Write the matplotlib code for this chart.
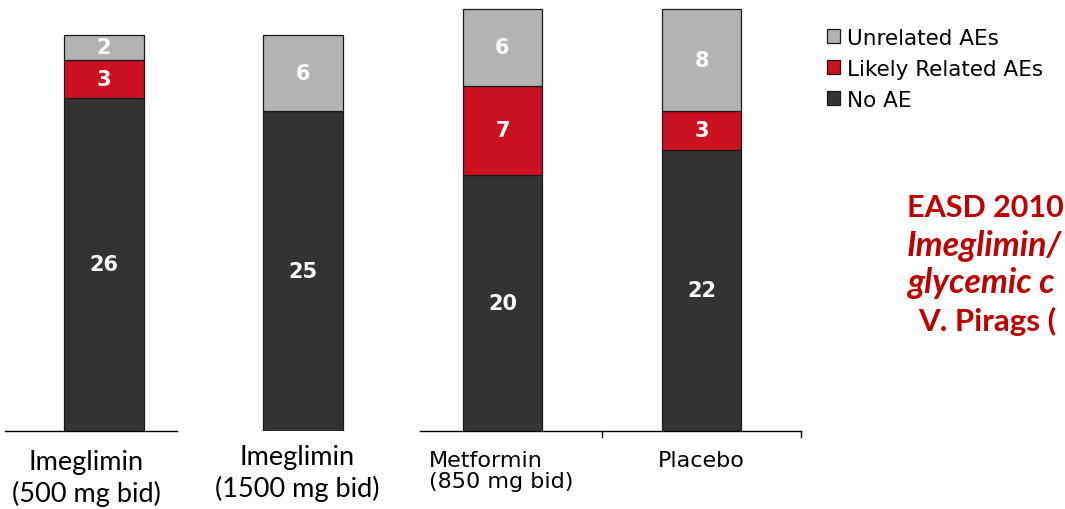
import matplotlib
matplotlib.use("Agg")
import matplotlib.pyplot as plt
from matplotlib.patches import Patch
import numpy as np

# ---- data ----
categories = ["Imeglimin\n(500 mg bid)", "Imeglimin\n(1500 mg bid)",
              "Metformin\n(850 mg bid)", "Placebo"]
no_ae = [26, 25, 20, 22]
likely_related = [3, 0, 7, 3]
unrelated = [2, 6, 6, 8]
series_names = ["No AE", "Likely Related AEs", "Unrelated AEs"]
note_lines = ["EASD 2010", "Imeglimin/", "glycemic c", "V. Pirags ("]

# ---- style ----
C_DARK = "#333333"
C_RED = "#CC1221"
C_GRAY = "#B3B3B3"
C_NOTE = "#C00000"

W, H = 1065, 510
fig = plt.figure(figsize=(W / 100, H / 100), dpi=100)
ax = fig.add_axes([0, 78.5 / H, 1, 431.5 / H])
ax.set_xlim(-104 / 199.2, (W - 104) / 199.2)
ax.set_ylim(0, 431.5 / 12.77)
ax.axis("off")

x = np.arange(len(categories))
bw = 0.40
series = [no_ae, likely_related, unrelated]
colors = [C_DARK, C_RED, C_GRAY]
bottom = np.zeros(len(categories))
for vals, col in zip(series, colors):
    v = np.array(vals, dtype=float)
    ax.bar(x, v, bw, bottom=bottom, color=col, edgecolor="#1a1a1a",
           linewidth=0.9, zorder=2)
    for xi, b, val in zip(x, bottom, v):
        if val > 0:
            ax.text(xi, b + val / 2, f"{int(val)}", ha="center", va="center",
                    color="white", fontsize=15, fontweight="bold",
                    family="DejaVu Sans", zorder=3)
    bottom += v

# baselines (like separate slide charts)
ax.plot([x[0] - 0.497, x[0] + 0.366], [0, 0], color="black", lw=1.0,
        clip_on=False, zorder=1)
ax.plot([x[2] - 0.416, x[3] + 0.5], [0, 0], color="black", lw=1.0,
        clip_on=False, zorder=1)
for tx in [x[2] + 0.5, x[3] + 0.5]:
    ax.plot([tx, tx], [0, -6 / 12.77], color="black", lw=1.0,
            clip_on=False, zorder=1)

# category labels
px = 12.77


def ypix(p):
    return (431.5 - p) / px


ax.text(x[0] - 0.09, ypix(450), categories[0], ha="center", va="top",
        family="Lato", fontsize=19.5, linespacing=1.3, clip_on=False)
ax.text(x[1] - 0.03, ypix(445), categories[1], ha="center", va="top",
        family="Lato", fontsize=19.5, linespacing=1.3, clip_on=False)
ax.text(x[2] - 0.37, ypix(451), categories[2], ha="left", va="top",
        family="DejaVu Sans", fontsize=16, linespacing=1.05, clip_on=False)
ax.text(x[3], ypix(451), categories[3], ha="center", va="top",
        family="DejaVu Sans", fontsize=16, linespacing=1.05, clip_on=False)

# legend
handles = [Patch(facecolor=c, edgecolor="#1a1a1a", linewidth=0.9)
           for c in colors]
leg = fig.legend(handles[::-1], series_names[::-1], loc="upper left",
                 bbox_to_anchor=(827 / W, 1 - 29 / H), frameon=False,
                 prop={"family": "DejaVu Sans", "size": 15.5},
                 handlelength=0.62, handleheight=0.62, handletextpad=0.3,
                 labelspacing=0.5, borderpad=0, borderaxespad=0)

# red note text
note_y = [217, 256, 293, 331]
note_x = [907, 907, 907, 918]
note_style = ["normal", "italic", "italic", "normal"]
note_size = [22, 24.5, 24.5, 22.5]
for t, nx, ny, st, fs in zip(note_lines, note_x, note_y, note_style, note_size):
    fig.text(nx / W, 1 - ny / H, t, ha="left", va="baseline",
             color=C_NOTE, family="Lato", fontweight="bold", style=st,
             fontsize=fs)

fig.savefig("out.png", dpi=100)
